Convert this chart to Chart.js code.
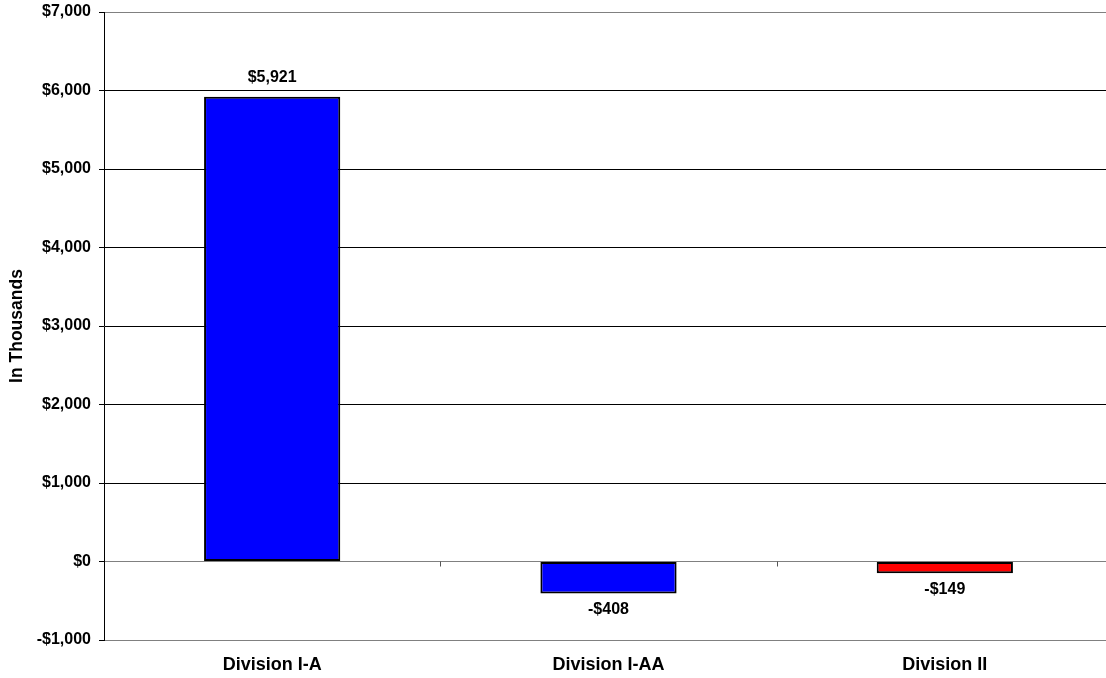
<!DOCTYPE html>
<html>
<head>
<meta charset="utf-8">
<script src="https://cdn.jsdelivr.net/npm/chart.js@4"></script>
<style>
  html, body { margin: 0; padding: 0; background: #fff; overflow: hidden; }
  #wrap { width: 1106px; height: 678px; overflow: hidden; }
</style>
</head>
<body>
<div id="wrap"><canvas id="chart" width="1113" height="678"></canvas></div>
<script>
var divisiones = ['Division I-A', 'Division I-AA', 'Division II'];
var montos = [5921, -408, -149];
var colores = ['#0000FF', '#0000FF', '#FF0000'];
var ejeMin = -1000;
var ejeMax = 7000;
var ejePaso = 1000;

var fuente = "'Liberation Sans', Arial, sans-serif";

function dinero(v) {
    var s = '$' + Math.abs(v).toLocaleString('en-US');
    return v < 0 ? '-' + s : s;
}

// etiquetas de valor sobre / debajo de cada barra
var etiquetas = {
    id: 'etiquetas',
    afterDatasetsDraw: function (chart) {
        var ctx = chart.ctx;
        var meta = chart.getDatasetMeta(0);
        ctx.save();
        ctx.font = 'bold 16px ' + fuente;
        ctx.fillStyle = '#000';
        ctx.textAlign = 'center';
        ctx.textBaseline = 'middle';
        meta.data.forEach(function (bar, i) {
            var v = montos[i];
            var y = v >= 0 ? bar.y - 19 : bar.y + 16;
            ctx.fillText(dinero(v), bar.x, y);
        });
        ctx.restore();
    }
};

// marcas pequeñas del eje de categorías sobre la línea de cero
var marcasCero = {
    id: 'marcasCero',
    afterDraw: function (chart) {
        var x = chart.scales.x;
        var y0 = chart.scales.y.getPixelForValue(0);
        var ctx = chart.ctx;
        ctx.save();
        ctx.strokeStyle = '#555';
        ctx.lineWidth = 1;
        for (var i = 0; i < divisiones.length - 1; i++) {
            var px = Math.round((x.getPixelForValue(i) + x.getPixelForValue(i + 1)) / 2) + 0.5;
            ctx.beginPath();
            ctx.moveTo(px, y0);
            ctx.lineTo(px, y0 + 5);
            ctx.stroke();
        }
        ctx.restore();
    }
};

var canvas = document.getElementById('chart');
var chart = new Chart(canvas.getContext('2d'), {
    type: 'bar',
    data: {
        labels: divisiones,
        datasets: [{
            data: montos,
            backgroundColor: colores,
            borderColor: '#000',
            borderWidth: 2,
            borderSkipped: false,
            categoryPercentage: 1,
            barPercentage: 0.405
        }]
    },
    options: {
        responsive: false,
        animation: false,
        layout: { padding: 0 },
        plugins: {
            legend: { display: false },
            tooltip: { enabled: false }
        },
        scales: {
            x: {
                grid: { display: false, drawTicks: false },
                border: { display: false },
                ticks: {
                    color: '#000',
                    font: { family: fuente, size: 18, weight: 'bold' },
                    padding: 14
                },
                afterFit: function (s) { s.height = 38; }
            },
            y: {
                min: ejeMin,
                max: ejeMax,
                ticks: {
                    stepSize: ejePaso,
                    color: '#000',
                    font: { family: fuente, size: 16, weight: 'bold' },
                    padding: 8,
                    callback: function (v) { return dinero(v); }
                },
                grid: {
                    color: function (c) {
                        var v = c.tick ? c.tick.value : null;
                        return (v === 0 || v === ejeMin || v === ejeMax) ? '#808080' : '#000';
                    },
                    tickColor: '#000',
                    tickLength: 5,
                    lineWidth: 1
                },
                border: { color: '#000', width: 1 },
                title: {
                    display: true,
                    text: 'In Thousands',
                    color: '#000',
                    font: { family: fuente, size: 17.5, weight: 'bold' },
                    padding: { top: 7, bottom: 0 }
                },
                afterFit: function (s) {
                    s.width = 104;
                    s.paddingTop = 12;
                    s.paddingBottom = 0;
                }
            }
        }
    },
    plugins: [etiquetas, marcasCero]
});
</script>
</body>
</html>
